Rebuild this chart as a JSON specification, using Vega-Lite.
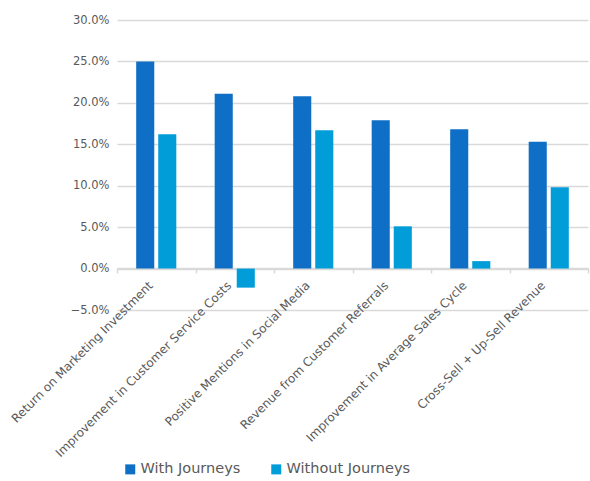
{
  "$schema": "https://vega.github.io/schema/vega-lite/v6.json",
  "autosize": {"type": "none"},
  "width": 471,
  "height": 290,
  "padding": {"left": 117, "top": 20, "right": 2, "bottom": 171},
  "background": "white",
  "config": {
    "view": {"stroke": null},
    "font": "DejaVu Sans",
    "axis": {"labelColor": "#595959", "labelFont": "DejaVu Sans"},
    "legend": {"labelColor": "#595959"}
  },
  "data": {
    "values": [
      {"metric": "Return on Marketing Investment", "series": "With Journeys", "value": 0.250},
      {"metric": "Return on Marketing Investment", "series": "Without Journeys", "value": 0.162},
      {"metric": "Improvement in Customer Service Costs", "series": "With Journeys", "value": 0.211},
      {"metric": "Improvement in Customer Service Costs", "series": "Without Journeys", "value": -0.023},
      {"metric": "Positive Mentions in Social Media", "series": "With Journeys", "value": 0.208},
      {"metric": "Positive Mentions in Social Media", "series": "Without Journeys", "value": 0.167},
      {"metric": "Revenue from Customer Referrals", "series": "With Journeys", "value": 0.179},
      {"metric": "Revenue from Customer Referrals", "series": "Without Journeys", "value": 0.051},
      {"metric": "Improvement in Average Sales Cycle", "series": "With Journeys", "value": 0.168},
      {"metric": "Improvement in Average Sales Cycle", "series": "Without Journeys", "value": 0.009},
      {"metric": "Cross-Sell + Up-Sell Revenue", "series": "With Journeys", "value": 0.153},
      {"metric": "Cross-Sell + Up-Sell Revenue", "series": "Without Journeys", "value": 0.098}
    ]
  },
  "mark": {"type": "bar"},
  "encoding": {
    "x": {
      "field": "metric",
      "type": "nominal",
      "sort": null,
      "scale": {"paddingInner": 0, "paddingOuter": 0},
      "axis": {
        "title": null,
        "offset": -42,
        "labelAngle": -45,
        "labelAlign": "right",
        "labelBaseline": "middle",
        "labelFontSize": 12,
        "labelLimit": 0,
        "labelPadding": 10,
        "labelOffset": -6,
        "tickBand": "extent",
        "domainColor": "#d9d9d9",
        "domainWidth": 1.5,
        "tickColor": "#d9d9d9",
        "tickWidth": 1.5,
        "tickSize": 5,
        "grid": false
      }
    },
    "xOffset": {
      "field": "series",
      "type": "nominal",
      "scale": {"paddingInner": 0.18, "paddingOuter": 0.87}
    },
    "y": {
      "field": "value",
      "type": "quantitative",
      "scale": {"domain": [-0.05, 0.30], "nice": false},
      "axis": {
        "title": null,
        "format": ".1%",
        "values": [-0.05, 0, 0.05, 0.10, 0.15, 0.20, 0.25, 0.30],
        "domain": false,
        "ticks": false,
        "labelFontSize": 11.5,
        "labelPadding": 8,
        "gridColor": "#d9d9d9",
        "gridWidth": 1.5
      }
    },
    "color": {
      "field": "series",
      "type": "nominal",
      "scale": {"domain": ["With Journeys", "Without Journeys"], "range": ["#0F6FC6", "#009DD9"]},
      "legend": {
        "title": null,
        "orient": "none",
        "direction": "horizontal",
        "legendX": 6,
        "legendY": 442,
        "symbolType": "square",
        "symbolSize": 100,
        "symbolStrokeWidth": 0,
        "labelFontSize": 14.5,
        "columnPadding": 28,
        "labelOffset": 3
      }
    }
  }
}
